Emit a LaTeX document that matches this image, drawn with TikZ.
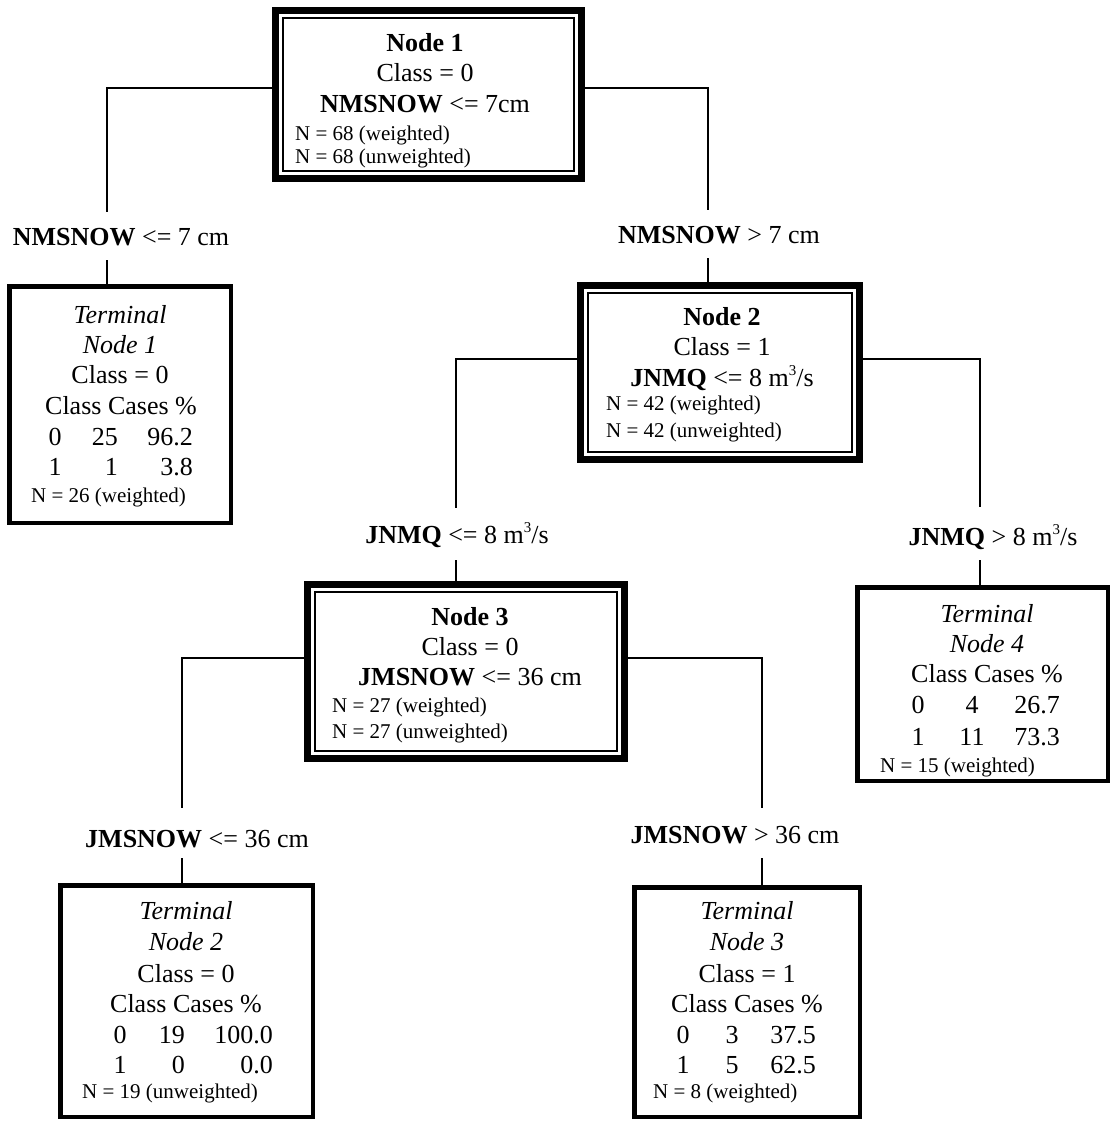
\documentclass[tikz,border=0pt]{standalone}
\usepackage{fontspec}
\setmainfont{Liberation Serif}
\newcommand\cubed{\raisebox{0.42em}{\fontsize{15}{15}\selectfont 3}}
\begin{document}
\begin{tikzpicture}[x=1pt,y=-1pt,
  big/.style={font=\fontsize{26}{30}\selectfont, inner sep=0pt, anchor=base},
  sm/.style={font=\fontsize{21}{24}\selectfont, inner sep=0pt, anchor=base west},
  rgt/.style={big, anchor=base east},
  dbox/.style={draw, line width=7pt, inner sep=0pt, outer sep=0pt},
  tbox/.style={draw, line width=4.5pt, inner sep=0pt, outer sep=0pt},
  innerline/.style={line width=1.7pt},
  conn/.style={line width=1.8pt},
  lab/.style={big}]
\useasboundingbox (0,0) rectangle (1115,1121);
% ---------- boxes ----------
\node[dbox, minimum width=306pt, minimum height=168pt] (n1) at (428.5,94.5) {};
\node[dbox, minimum width=279pt, minimum height=174pt] (n2) at (720,372.5) {};
\node[dbox, minimum width=317pt, minimum height=174pt] (n3) at (466,671.5) {};
\foreach \n in {n1,n2,n3}{
  \draw[innerline] ([shift={(7.5pt,-7.5pt)}]\n.north west) rectangle ([shift={(-7.5pt,7.5pt)}]\n.south east);
}
\node[tbox, minimum width=221.5pt, minimum height=236.5pt] (t1) at (120,404.5) {};
\node[tbox, minimum width=250.5pt, minimum height=193.5pt] (t4) at (982.5,684) {};
\node[tbox, minimum width=252.5pt, minimum height=231.5pt] (t2) at (186.5,1001) {};
\node[tbox, minimum width=225.5pt, minimum height=229.5pt] (t3) at (747,1002) {};
% ---------- Node 1 text ----------
\node[big] (n1a) at (425,52) {\textbf{Node 1}};
\node[big] (n1b) at (425,82) {Class = 0};
\node[big] (n1c) at (425,113) {\textbf{NMSNOW} <= 7cm};
\node[sm] (n1d) at (295,140) {N = 68 (weighted)};
\node[sm] (n1e) at (295,164) {N = 68 (unweighted)};
% ---------- Node 2 text ----------
\node[big] (n2a) at (722,325) {\textbf{Node 2}};
\node[big] (n2b) at (722,355) {Class = 1};
\node[big] (n2c) at (722,386) {\textbf{JNMQ} <= 8 m\cubed/s};
\node[sm] (n2d) at (606,410) {N = 42 (weighted)};
\node[sm] (n2e) at (606,437) {N = 42 (unweighted)};
% ---------- Node 3 text ----------
\node[big] (n3a) at (470,625) {\textbf{Node 3}};
\node[big] (n3b) at (470,655) {Class = 0};
\node[big] (n3c) at (470,685) {\textbf{JMSNOW} <= 36 cm};
\node[sm] (n3d) at (332,712) {N = 27 (weighted)};
\node[sm] (n3e) at (332,738) {N = 27 (unweighted)};
% ---------- Terminal 1 ----------
\node[big] (t1a) at (120,323) {\itshape Terminal};
\node[big] (t1b) at (120,353) {\itshape Node 1};
\node[big] (t1c) at (120,383) {Class = 0};
\node[big] (t1d) at (121,414) {Class Cases \%};
\node[big] (t1e1) at (55,445) {0};
\node[rgt] (t1e2) at (118,445) {25};
\node[rgt] (t1e3) at (193,445) {96.2};
\node[big] (t1f1) at (55,475) {1};
\node[rgt] (t1f2) at (118,475) {1};
\node[rgt] (t1f3) at (193,475) {3.8};
\node[sm] (t1g) at (31,502) {N = 26 (weighted)};
% ---------- Terminal 4 ----------
\node[big] (t4a) at (987,622) {\itshape Terminal};
\node[big] (t4b) at (987,652) {\itshape Node 4};
\node[big] (t4c) at (987,682) {Class Cases \%};
\node[big] (t4d1) at (918,713) {0};
\node[big] (t4d2) at (972,713) {4};
\node[rgt] (t4d3) at (1060,713) {26.7};
\node[big] (t4e1) at (918,745) {1};
\node[big] (t4e2) at (972,745) {11};
\node[rgt] (t4e3) at (1060,745) {73.3};
\node[sm] (t4f) at (880,772) {N = 15 (weighted)};
% ---------- Terminal 2 ----------
\node[big] (t2a) at (186,919) {\itshape Terminal};
\node[big] (t2b) at (186,950) {\itshape Node 2};
\node[big] (t2c) at (186,982) {Class = 0};
\node[big] (t2d) at (186,1012) {Class Cases \%};
\node[big] (t2e1) at (120,1043) {0};
\node[rgt] (t2e2) at (185,1043) {19};
\node[rgt] (t2e3) at (273,1043) {100.0};
\node[big] (t2f1) at (120,1073) {1};
\node[rgt] (t2f2) at (185,1073) {0};
\node[rgt] (t2f3) at (273,1073) {0.0};
\node[sm] (t2g) at (82,1098) {N = 19 (unweighted)};
% ---------- Terminal 3 ----------
\node[big] (t3a) at (747,919) {\itshape Terminal};
\node[big] (t3b) at (747,950) {\itshape Node 3};
\node[big] (t3c) at (747,982) {Class = 1};
\node[big] (t3d) at (747,1012) {Class Cases \%};
\node[big] (t3e1) at (683,1043) {0};
\node[big] (t3e2) at (732,1043) {3};
\node[rgt] (t3e3) at (816,1043) {37.5};
\node[big] (t3f1) at (683,1073) {1};
\node[big] (t3f2) at (732,1073) {5};
\node[rgt] (t3f3) at (816,1073) {62.5};
\node[sm] (t3g) at (653,1098) {N = 8 (weighted)};
% ---------- edge labels ----------
\node[lab] (l1) at (121,245) {\textbf{NMSNOW} <= 7 cm};
\node[lab] (l2) at (719,243) {\textbf{NMSNOW} > 7 cm};
\node[lab] (l3) at (457,543) {\textbf{JNMQ} <= 8 m\cubed/s};
\node[lab] (l4) at (993,545) {\textbf{JNMQ} > 8 m\cubed/s};
\node[lab] (l5) at (197,847) {\textbf{JMSNOW} <= 36 cm};
\node[lab] (l6) at (735,843) {\textbf{JMSNOW} > 36 cm};
% ---------- connector coordinates ----------
\coordinate (c1) at (107,212);  \coordinate (c1b) at (107,260);
\coordinate (c2) at (708,210);  \coordinate (c2b) at (708,258);
\coordinate (c3) at (456,508);  \coordinate (c3b) at (456,560);
\coordinate (c4) at (980,507);  \coordinate (c4b) at (980,560);
\coordinate (c5) at (182,808);  \coordinate (c5b) at (182,858);
\coordinate (c6) at (762,808);  \coordinate (c6b) at (762,858);
% ---------- connectors ----------
\draw[conn] ([yshift=6.5pt]n1.west) -| (c1);
\draw[conn] (c1b) -- (c1b |- t1.north);
\draw[conn] ([yshift=6.5pt]n1.east) -| (c2);
\draw[conn] (c2b) -- (c2b |- n2.north);
\draw[conn] ([yshift=13.5pt]n2.west) -| (c3);
\draw[conn] (c3b) -- (c3b |- n3.north);
\draw[conn] ([yshift=13.5pt]n2.east) -| (c4);
\draw[conn] (c4b) -- (c4b |- t4.north);
\draw[conn] ([yshift=13.5pt]n3.west) -| (c5);
\draw[conn] (c5b) -- (c5b |- t2.north);
\draw[conn] ([yshift=13.5pt]n3.east) -| (c6);
\draw[conn] (c6b) -- (c6b |- t3.north);
\end{tikzpicture}
\end{document}
